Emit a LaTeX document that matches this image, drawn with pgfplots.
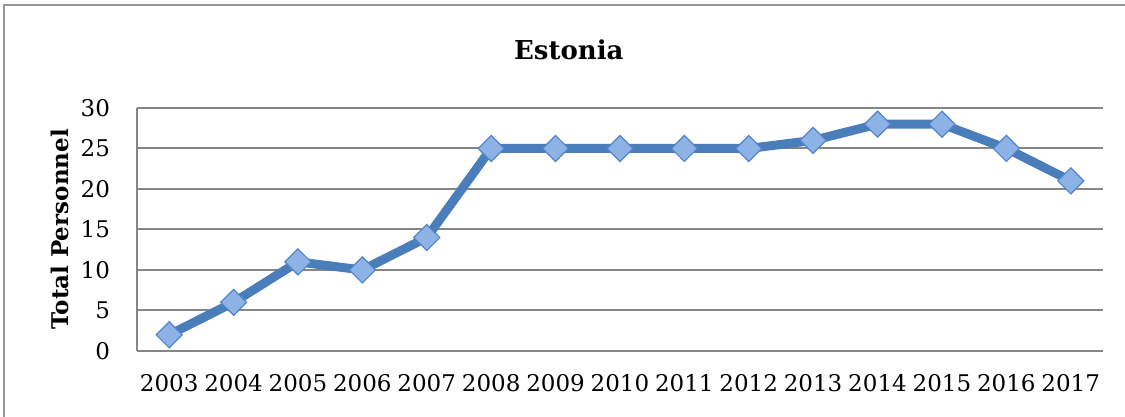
\documentclass[border=0pt]{standalone}
\usepackage{fontspec}
\setmainfont{DejaVu Serif}
\usepackage{pgfplots}
\pgfplotsset{compat=1.18}

\definecolor{lineblue}{RGB}{74,126,187}
\definecolor{markfill}{RGB}{140,178,230}
\definecolor{markedge}{RGB}{84,132,200}
\definecolor{gridgray}{RGB}{134,134,134}
\definecolor{framegray}{RGB}{150,150,150}

\begin{document}
\begin{tikzpicture}
  \begin{axis}[
    scale only axis,
    width=483pt, height=121.5pt,
    xmin=2002.5, xmax=2017.5,
    ymin=0, ymax=30,
    xtick={2003,...,2017},
    ytick={0,5,...,30},
    /pgf/number format/assume math mode=true,
    x tick label style={/pgf/number format/1000 sep={}, font=\fontsize{11.5}{13}\selectfont, yshift=-8pt},
    y tick label style={font=\fontsize{11.5}{13}\selectfont, xshift=-10pt},
    major tick length=0pt,
    axis x line*=bottom,
    axis y line*=left,
    axis line style={gridgray, line width=1pt, -},
    ymajorgrids=true,
    grid style={gridgray, line width=1pt},
    title={Estonia},
    title style={font=\bfseries\fontsize{13}{15}\selectfont, at={(0.447,1.12)}, anchor=south},
    ylabel={Total Personnel},
    ylabel style={font=\bfseries\fontsize{11.5}{13}\selectfont, at={(rel axis cs:-0.0797,0.5)}, anchor=center},
    clip=false,
  ]
    \addplot[lineblue, line width=4.5pt, mark=square*, mark size=4.6pt,
      mark options={fill=markfill, draw=markedge, line width=0.6pt, rotate=45}]
      coordinates {
        (2003,2) (2004,6) (2005,11) (2006,10) (2007,14)
        (2008,25) (2009,25) (2010,25) (2011,25) (2012,25)
        (2013,26) (2014,28) (2015,28) (2016,25) (2017,21)
      };
    \coordinate (fbl) at (rel axis cs:-0.1377,-0.2716);
    \coordinate (ftl) at (rel axis cs:-0.1377,1.4239);
    \coordinate (ftr) at (rel axis cs:1.0228,1.4239);
    \coordinate (bbl) at (rel axis cs:-0.1418,-0.2716);
    \coordinate (btr) at (rel axis cs:1.0228,1.4444);
  \end{axis}
  \draw[framegray, line width=0.75pt] (fbl) -- (ftl) -- (ftr);
  \pgfresetboundingbox
  \useasboundingbox (bbl) rectangle (btr);
\end{tikzpicture}
\end{document}
